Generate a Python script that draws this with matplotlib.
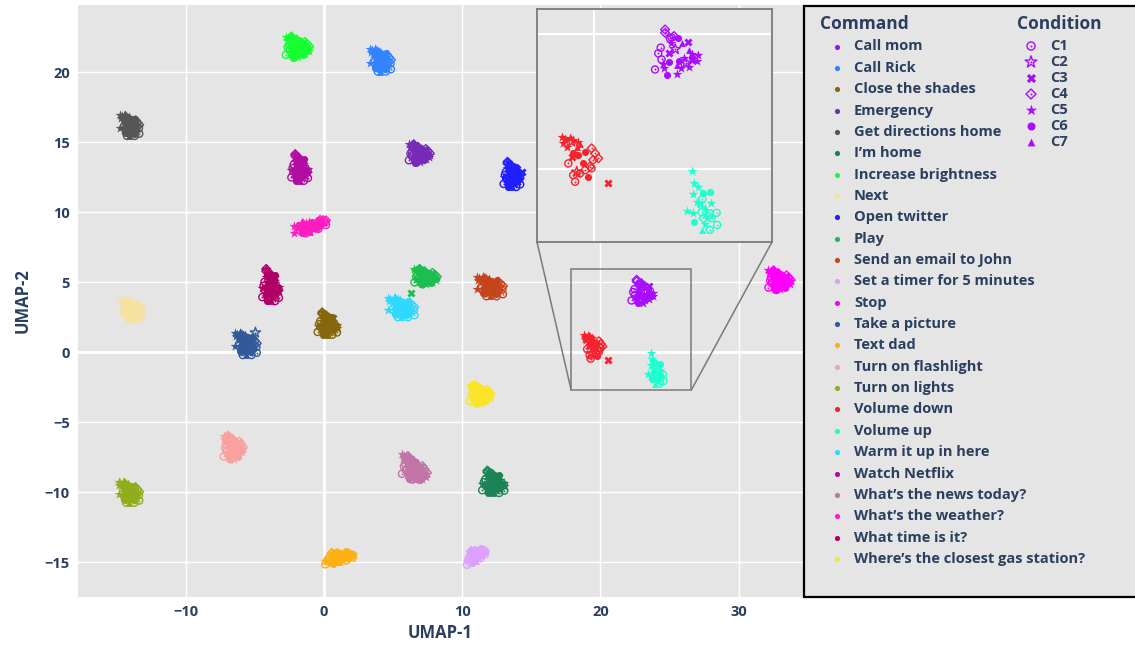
import numpy as np
import matplotlib.pyplot as plt
from matplotlib.patches import Rectangle, ConnectionPatch

W, H = 1135, 645
BG = '#e5e5e5'
TXT = '#2a3f5f'
FONT = 'Open Sans'

commands = [
    "Call mom", "Call Rick", "Close the shades", "Emergency", "Get directions home",
    "I\u2019m home", "Increase brightness", "Next", "Open twitter", "Play",
    "Send an email to John", "Set a timer for 5 minutes", "Stop", "Take a picture",
    "Text dad", "Turn on flashlight", "Turn on lights", "Volume down", "Volume up",
    "Warm it up in here", "Watch Netflix", "What\u2019s the news today?",
    "What\u2019s the weather?", "What time is it?", "Where\u2019s the closest gas station?",
]
colors = [
    '#AA0DFE', '#3283FE', '#85660D', '#782AB6', '#565656',
    '#1C8356', '#16FF32', '#F7E1A0', '#1F1FFF', '#1CBE4F',
    '#C4451C', '#DEA0FD', '#FE00FA', '#325A9B', '#FEAF16',
    '#F8A19F', '#90AD1C', '#F6222E', '#1CFFCE', '#2ED9FF',
    '#B10DA1', '#C075A6', '#FC1CBF', '#B00068', '#FBE426',
]
conditions = ['C1', 'C2', 'C3', 'C4', 'C5', 'C6', 'C7']

# points (condition number 1..7)
mom_x = [22.62, 22.62, 22.80, 22.95, 23.11, 22.84, 23.24, 23.48, 23.52, 22.46,
         22.37, 22.78, 22.49, 22.78, 22.56, 23.14, 23.32, 23.63, 23.83, 23.61,
         23.79, 23.52, 23.05, 23.20, 22.25, 22.58, 22.70, 23.07, 23.61, 22.86,
         23.00, 23.40]
mom_y = [5.18, 5.06, 4.85, 4.94, 4.88, 4.67, 4.69, 4.73, 4.42, 4.51,
         4.30, 4.30, 4.07, 3.99, 3.92, 4.01, 4.11, 4.26, 4.23, 4.05,
         4.01, 3.80, 3.86, 3.74, 3.70, 3.74, 3.49, 3.53, 4.17, 4.89,
         4.45, 3.95]
mom_c = [4, 4, 1, 4, 6, 5, 7, 3, 7, 1,
         1, 3, 1, 6, 5, 6, 5, 5, 5, 3,
         5, 5, 7, 5, 1, 5, 6, 5, 6, 1,
         2, 2]

vdown_x = [18.79, 18.91, 19.10, 19.22, 19.41, 18.85, 19.47, 19.35, 19.22, 19.41,
           19.59, 19.78, 19.66, 19.16, 19.29, 19.90, 20.03, 20.15, 19.96, 19.84,
           19.04, 19.22, 19.29, 19.47, 19.90, 19.66, 18.98, 19.16, 19.35, 20.52]
vdown_y = [1.21, 1.11, 1.15, 1.09, 1.02, 0.96, 0.94, 0.84, 0.59, 0.53,
           0.22, -0.27, 0.65, 0.47, 0.53, 0.78, 0.59, 0.41, 0.35, 0.10,
           0.22, -0.21, -0.46, -0.15, 0.04, -0.03, 0.84, 1.03, -0.09, -0.52]
vdown_c = [5, 5, 5, 5, 5, 5, 7, 7, 6, 6,
           6, 6, 6, 3, 3, 4, 4, 4, 4, 4,
           1, 1, 1, 1, 1, 1, 5, 2, 2, 3]

vup_x = [23.70, 23.83, 24.04, 24.28, 23.65, 23.80, 24.00, 24.31, 23.42,
         23.67, 23.98, 24.10, 24.28, 24.53, 24.04, 24.35, 23.70, 24.10, 23.98,
         24.28, 24.55, 23.92, 24.22, 23.63]
vup_y = [-0.49, -0.64, -0.86, -0.83, -0.92, -1.20, -1.10, -1.24, -1.55,
         -1.63, -1.58, -1.41, -1.63, -1.61, -1.81, -1.81, -1.94, -2.02, -2.24,
         -2.24, -2.06, -1.28, -1.75, -0.05]
vup_c = [5, 5, 6, 6, 5, 5, 1, 5, 5,
         5, 1, 7, 1, 1, 4, 1, 6, 5, 7,
         1, 1, 3, 4, 5]

explicit = {
    "Call mom": (mom_x, mom_y, mom_c),
    "Volume down": (vdown_x, vdown_y, vdown_c),
    "Volume up": (vup_x, vup_y, vup_c),
}
# cluster shapes reused for the other commands (stray last points left out)
templates = [(mom_x, mom_y, mom_c), (vdown_x[:-1], vdown_y[:-1], vdown_c[:-1]),
             (vup_x[:-1], vup_y[:-1], vup_c[:-1])]

# remaining clusters: centre, half extent, tilt
centre_x = {"Call Rick": 4.1, "Close the shades": 0.25, "Emergency": 6.9,
            "Get directions home": -14.05, "I\u2019m home": 12.25, "Increase brightness": -1.9,
            "Next": -13.9, "Open twitter": 13.6, "Play": 7.35, "Send an email to John": 12.0,
            "Set a timer for 5 minutes": 11.0, "Stop": 32.95, "Take a picture": -5.65,
            "Text dad": 1.1, "Turn on flashlight": -6.55, "Turn on lights": -14.1,
            "Warm it up in here": 5.6, "Watch Netflix": -1.75, "What\u2019s the news today?": 6.55,
            "What\u2019s the weather?": -1.0, "What time is it?": -3.85,
            "Where\u2019s the closest gas station?": 11.3}
centre_y = {"Call Rick": 20.85, "Close the shades": 2.05, "Emergency": 14.2,
            "Get directions home": 16.2, "I\u2019m home": -9.25, "Increase brightness": 21.8,
            "Next": 3.05, "Open twitter": 12.7, "Play": 5.4, "Send an email to John": 4.7,
            "Set a timer for 5 minutes": -14.45, "Stop": 5.15, "Take a picture": 0.6,
            "Text dad": -14.6, "Turn on flashlight": -6.8, "Turn on lights": -10.0,
            "Warm it up in here": 3.2, "Watch Netflix": 13.2, "What\u2019s the news today?": -8.35,
            "What\u2019s the weather?": 9.0, "What time is it?": 4.8,
            "Where\u2019s the closest gas station?": -3.0}
half_x = {"Call Rick": 0.75, "Close the shades": 0.7, "Emergency": 0.75,
          "Get directions home": 0.7, "I\u2019m home": 0.8, "Increase brightness": 0.85,
          "Next": 0.75, "Open twitter": 0.6, "Play": 0.8, "Send an email to John": 0.95,
          "Set a timer for 5 minutes": 0.65, "Stop": 0.8, "Take a picture": 0.8,
          "Text dad": 1.0, "Turn on flashlight": 0.7, "Turn on lights": 0.75,
          "Warm it up in here": 0.95, "Watch Netflix": 0.6, "What\u2019s the news today?": 0.9,
          "What\u2019s the weather?": 1.15, "What time is it?": 0.6,
          "Where\u2019s the closest gas station?": 0.75}
half_y = {"Call Rick": 0.8, "Close the shades": 0.8, "Emergency": 0.65,
          "Get directions home": 0.75, "I\u2019m home": 0.8, "Increase brightness": 0.75,
          "Next": 0.7, "Open twitter": 0.9, "Play": 0.55, "Send an email to John": 0.7,
          "Set a timer for 5 minutes": 0.45, "Stop": 0.7, "Take a picture": 0.8,
          "Text dad": 0.4, "Turn on flashlight": 0.85, "Turn on lights": 0.75,
          "Warm it up in here": 0.7, "Watch Netflix": 0.95, "What\u2019s the news today?": 0.8,
          "What\u2019s the weather?": 0.4, "What time is it?": 1.15,
          "Where\u2019s the closest gas station?": 0.65}
tilt = {"Set a timer for 5 minutes": 0.6, "Text dad": 0.25,
        "What\u2019s the news today?": -0.3, "What\u2019s the weather?": 0.35}
# a few stray points
extra_cmd = ["Play", "Take a picture", "Open twitter"]
extra_x = [6.3, -4.95, 14.3]
extra_y = [4.25, 1.4, 12.85]
extra_c = [3, 2, 3]

# marker look per condition: (marker, filled, centre dot, size)
cond_style = {1: ('o', False, True, 26), 2: ('*', False, True, 60), 3: ('X', True, False, 34),
              4: ('D', False, True, 20), 5: ('*', True, False, 55), 6: ('o', True, False, 26),
              7: ('^', True, False, 24)}


def norm(vals):
    v = np.asarray(vals, float)
    return (v - (v.max() + v.min()) / 2) / ((v.max() - v.min()) / 2)


def cluster_points(name, k):
    if name in explicit:
        x, y, c = explicit[name]
        return np.asarray(x), np.asarray(y), np.asarray(c)
    xs, ys, cs = [], [], []
    for t in (templates[k % 3], templates[(k + 1) % 3]):
        tx, ty, tc = t
        nx, ny = norm(tx), norm(ty)
        xs.append(centre_x[name] + nx * half_x[name])
        ys.append(centre_y[name] + ny * half_y[name] + tilt.get(name, 0) * nx * half_x[name])
        cs.append(np.asarray(tc))
    return np.concatenate(xs), np.concatenate(ys), np.concatenate(cs)


def draw_points(a, x, y, c, color):
    for cond, (mk, filled, dot, s) in cond_style.items():
        m = c == cond
        if not m.any():
            continue
        if filled:
            a.scatter(x[m], y[m], s=s, marker=mk, color=color, lw=0, zorder=3)
        else:
            a.scatter(x[m], y[m], s=s, marker=mk, facecolors='none',
                      edgecolors=color, lw=1.0, zorder=3)
        if dot:
            a.scatter(x[m], y[m], s=2, marker='o', color=color, lw=0, zorder=3)


fig = plt.figure(figsize=(W / 100, H / 100), dpi=100)
fig.patch.set_facecolor('white')

# main axes
ax = fig.add_axes([78 / W, 1 - 597 / H, (803 - 78) / W, (597 - 5) / H])
ax.set_facecolor(BG)
ax.set_xlim(-17.78, 34.65)
ax.set_ylim(-17.48, 24.8)
ax.set_xticks([-10, 0, 10, 20, 30])
ax.set_yticks([-15, -10, -5, 0, 5, 10, 15, 20])
ax.grid(color='white', lw=1)
ax.set_axisbelow(True)
ax.axhline(0, color='white', lw=2, zorder=0.8)
ax.axvline(0, color='white', lw=2, zorder=0.8)
for s in ax.spines.values():
    s.set_visible(False)
ax.tick_params(length=0, labelsize=10.5, labelcolor=TXT, pad=6)
for lab in ax.get_xticklabels() + ax.get_yticklabels():
    lab.set_fontweight('bold')
    lab.set_fontfamily(FONT)
ax.set_xlabel('UMAP-1', fontsize=12, fontweight='bold', color=TXT, family=FONT, labelpad=3)
ax.set_ylabel('UMAP-2', fontsize=12, fontweight='bold', color=TXT, family=FONT, labelpad=9)

# inset
axins = fig.add_axes([537 / W, 1 - 242 / H, 235 / W, 233 / H])
axins.set_facecolor(BG)
ix0, ix1, iy0, iy1 = 17.88, 26.58, -2.69, 5.94
axins.set_xlim(ix0, ix1)
axins.set_ylim(iy0, iy1)
axins.set_xticks([20])
axins.set_yticks([0, 5])
axins.grid(color='white', lw=1.5)
axins.set_axisbelow(True)
axins.tick_params(length=0, labelbottom=False, labelleft=False)
for s in axins.spines.values():
    s.set_color('#7a7a7a')
    s.set_linewidth(1.3)

for k, (name, col) in enumerate(zip(commands, colors)):
    x, y, c = cluster_points(name, k)
    draw_points(ax, x, y, c, col)
    if name in explicit:
        draw_points(axins, x, y, c, col)

for name, x, y, c in zip(extra_cmd, extra_x, extra_y, extra_c):
    col = colors[commands.index(name)]
    draw_points(ax, np.array([x]), np.array([y]), np.array([c]), col)

ax.add_patch(Rectangle((ix0, iy0), ix1 - ix0, iy1 - iy0, fill=False,
                       edgecolor='#7a7a7a', lw=1.1, zorder=4))
for xa, xb in [(ix0, 0), (ix1, 1)]:
    con = ConnectionPatch(xyA=(xa, iy0), coordsA=ax.transData, xyB=(xb, 0),
                          coordsB=axins.transAxes, color='#7a7a7a', lw=1.1)
    fig.add_artist(con)

# legend panel drawn in pixel coordinates
lax = fig.add_axes([0, 0, 1, 1], zorder=5)
lax.set_xlim(0, W)
lax.set_ylim(H, 0)
lax.axis('off')
lax.add_patch(Rectangle((804, 6), 360, 591, facecolor=BG, edgecolor='black', lw=1.6))
lax.text(820, 24, 'Command', fontsize=12.5, fontweight='bold', color=TXT,
         family=FONT, va='center', ha='left')
lax.text(1017, 24, 'Condition', fontsize=12.5, fontweight='bold', color=TXT,
         family=FONT, va='center', ha='left')
for i, (name, col) in enumerate(zip(commands, colors)):
    yy = 46.5 + i * 21.35
    lax.scatter([837], [yy], s=14, color=col, lw=0)
    lax.text(854, yy, name, fontsize=10.5, fontweight='bold', color=TXT,
             family=FONT, va='center', ha='left')
for i, cond in enumerate(conditions):
    yy = 46 + i * 16
    mk, filled, dot, s = cond_style[i + 1]
    if filled:
        lax.scatter([1031], [yy], s=s * 1.3, marker=mk, color='#AA0DFE', lw=0)
    else:
        lax.scatter([1031], [yy], s=s * 1.3, marker=mk, facecolors='none',
                    edgecolors='#AA0DFE', lw=1.0)
    if dot:
        lax.scatter([1031], [yy], s=2, color='#AA0DFE', lw=0)
    lax.text(1050, yy, cond, fontsize=10.5, fontweight='bold', color=TXT,
             family=FONT, va='center', ha='left')

fig.savefig('out.png', dpi=100, facecolor='white')
